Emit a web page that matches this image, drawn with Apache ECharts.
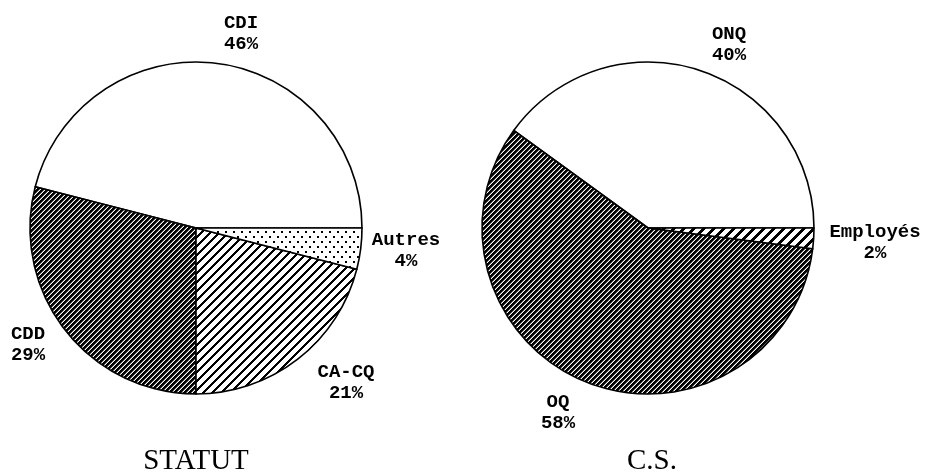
<!DOCTYPE html>
<html><head><meta charset="utf-8">
<script src="https://cdn.jsdelivr.net/npm/echarts@6/dist/echarts.min.js"></script>
<style>html,body{margin:0;padding:0;background:#fff}#c{width:926px;height:475px}</style>
</head><body><div id="c"></div>
<script>
// ---- data ----
const statutCategories = ['CDI', 'CDD', 'CA-CQ', 'Autres'];
const statutValues = [46, 29, 21, 4];
const csCategories = ['ONQ', 'OQ', 'Employés'];
const csValues = [40, 58, 2];
const chartTitles = ['STATUT', 'C.S.'];

// ---- patterns ----
function stripeTile(T, k, g) {
  const c = document.createElement('canvas'); c.width = T; c.height = T;
  const ctx = c.getContext('2d'); const img = ctx.createImageData(T, T);
  for (let y = 0; y < T; y++) for (let x = 0; x < T; x++) {
    const m = (x + y) % T;
    const v = m < k ? 0 : (g && m === k ? 110 : 255);
    const i = (y * T + x) * 4;
    img.data[i] = v; img.data[i + 1] = v; img.data[i + 2] = v; img.data[i + 3] = 255;
  }
  ctx.putImageData(img, 0, 0); return c;
}
function dotTile() {
  const c = document.createElement('canvas'); c.width = 8; c.height = 10;
  const ctx = c.getContext('2d'); ctx.fillStyle = '#fff'; ctx.fillRect(0, 0, 8, 10);
  ctx.fillStyle = '#000'; ctx.fillRect(1, 1, 2, 2); ctx.fillRect(5, 6, 2, 2);
  return c;
}
const white = '#ffffff';
const dense = { image: stripeTile(5, 3, true), repeat: 'repeat' };
const sparse = { image: stripeTile(9, 3), repeat: 'repeat' };
const sparseThick = { image: stripeTile(10, 4), repeat: 'repeat' };
const dots = { image: dotTile(), repeat: 'repeat' };

const statutFills = [white, dense, sparse, dots];
const csFills = [white, dense, sparseThick];

// label anchor points (layout)
const statutLabelPos = [[241, 34], [28, 345], [346, 383], [406, 251]];
const csLabelPos = [[729, 45], [558, 413], [875, 243]];

const labelStyle = {
  show: true, position: 'outside', formatter: '{b}\n{c}%',
  fontFamily: 'Liberation Mono', fontWeight: 'bold', fontSize: 19, lineHeight: 21, color: '#000'
};

function makePie(cats, vals, fills, center, pos) {
  return {
    type: 'pie', center: center, radius: 166, startAngle: 0, clockwise: false,
    avoidLabelOverlap: false, silent: true, animation: false,
    label: labelStyle, labelLine: { show: false },
    itemStyle: { borderColor: '#000', borderWidth: 1.6 },
    labelLayout: function (p) {
      const q = pos[p.dataIndex];
      return { x: q[0], y: q[1], align: 'center', verticalAlign: 'middle' };
    },
    data: cats.map((n, i) => ({ name: n, value: vals[i], itemStyle: { color: fills[i] } }))
  };
}

const chart = echarts.init(document.getElementById('c'));
chart.setOption({
  backgroundColor: '#fff',
  animation: false,
  series: [
    makePie(statutCategories, statutValues, statutFills, [196, 228], statutLabelPos),
    makePie(csCategories, csValues, csFills, [648, 228], csLabelPos)
  ],
  graphic: [
    { type: 'text', x: 196, y: 461, style: { text: chartTitles[0], fontFamily: 'Liberation Serif', fontSize: 29, fill: '#000', align: 'center', verticalAlign: 'middle' } },
    { type: 'text', x: 652, y: 461, style: { text: chartTitles[1], fontFamily: 'Liberation Serif', fontSize: 29, fill: '#000', align: 'center', verticalAlign: 'middle' } }
  ]
});
</script></body></html>
